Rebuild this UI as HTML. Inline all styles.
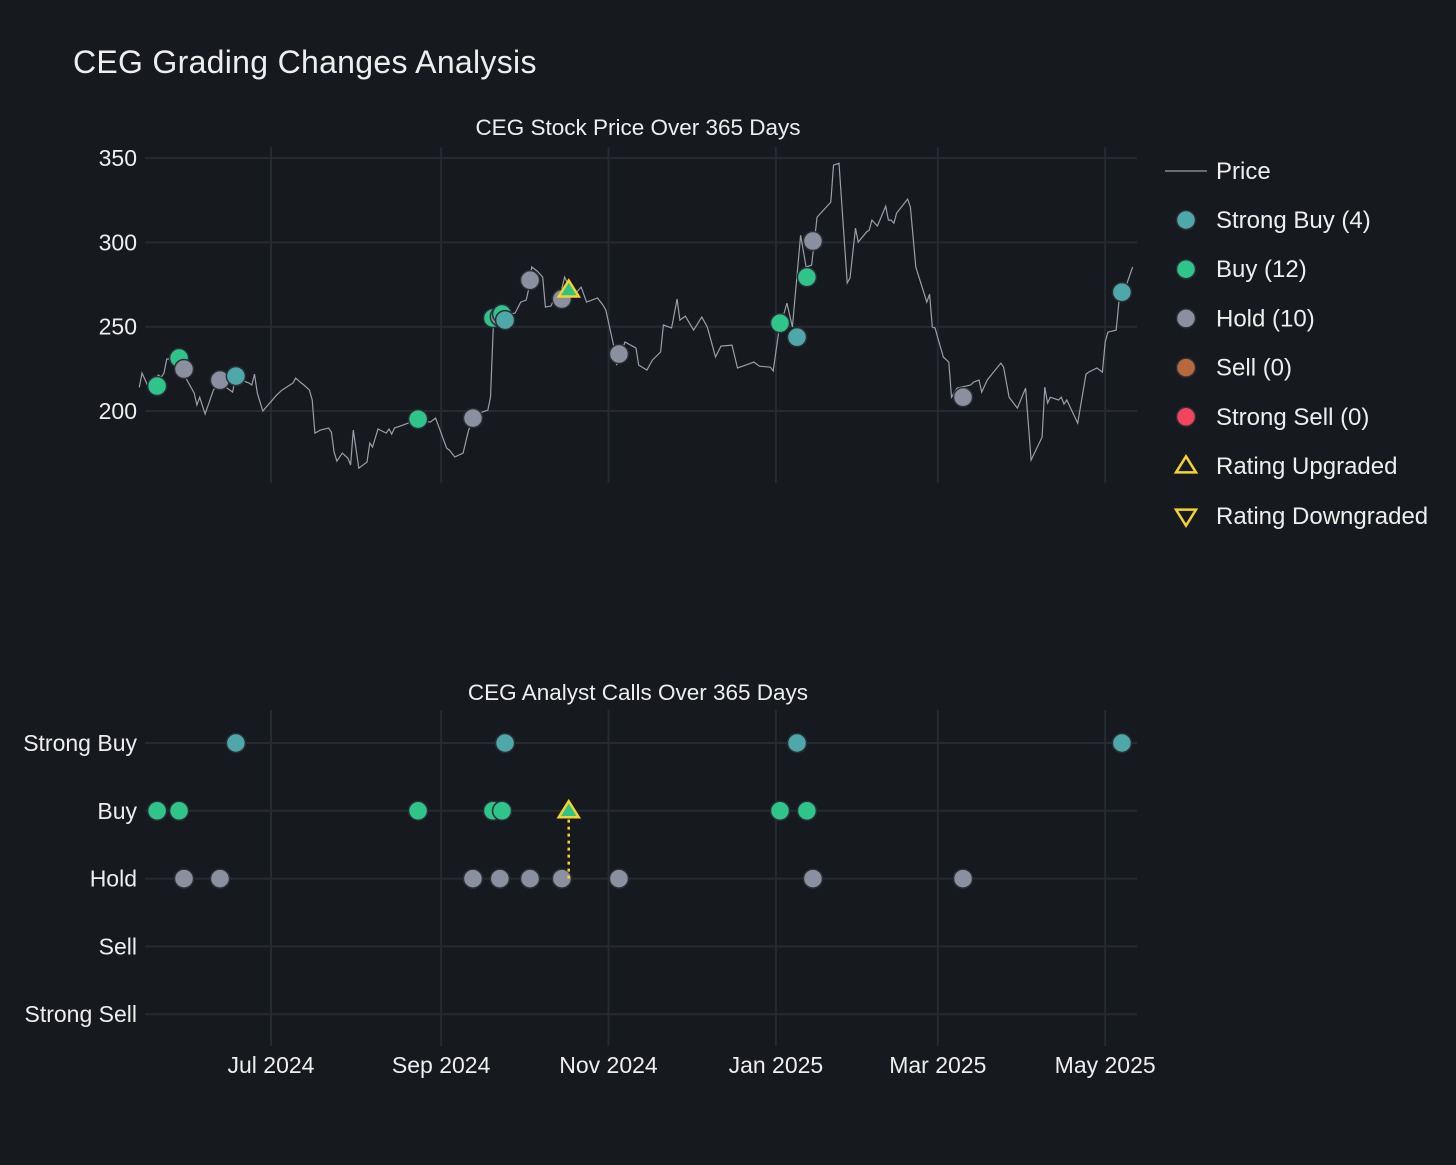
<!DOCTYPE html>
<html><head><meta charset="utf-8">
<style>
html,body{margin:0;padding:0;background:#16191e;}
svg{display:block;font-family:"Liberation Sans","DejaVu Sans",sans-serif;}
</style></head>
<body>
<svg id="chart" width="1456" height="1165" viewBox="0 0 1456 1165" xmlns="http://www.w3.org/2000/svg">
<rect width="1456" height="1165" fill="#16191e"/>
<text x="73" y="73" fill="#eeeeee" font-size="32" letter-spacing="0.3">CEG Grading Changes Analysis</text>
<text x="638" y="135" fill="#eeeeee" font-size="22.5" text-anchor="middle">CEG Stock Price Over 365 Days</text>
<text x="638" y="700" fill="#eeeeee" font-size="22.5" text-anchor="middle">CEG Analyst Calls Over 365 Days</text>
<g id="grid"></g>
<g id="price"></g>
<g id="calls"></g>
<g id="legend"></g>
</svg>
<script>
// Price series: day offset from 2024-07-01, closing price
const priceDays = [-48,-47,-45,-41,-40,-39,-38,-34,-31,-28,-27,-26,-24,-21,-19,-16,-14,-13,-8,-7,-6,-5,-3,2,4,8,9,11,12,14,15,16,18,21,22,23,24,26,28,29,30,32,35,36,37,39,42,43,44,45,48,50,53,58,60,64,65,67,70,72,74,77,79,80,81,83,89,91,93,94,95,97,99,100,102,103,105,107,108,110,111,113,115,119,121,122,125,126,129,133,134,137,139,142,143,146,148,149,151,154,157,159,162,164,168,170,173,176,178,182,183,185,188,190,193,195,197,199,204,205,207,210,211,213,214,217,218,219,221,224,225,226,227,228,232,233,235,239,240,241,242,245,247,248,250,255,256,258,259,261,263,266,267,269,272,275,277,281,282,283,284,287,288,289,290,294,297,298,301,303,304,305,308,309,312,314];
const prices = [214,222.5,215.4,221.3,220,222.5,230.8,231.4,219.5,210.6,203.5,208.2,198.2,212.4,217.1,213.6,211.2,219.5,216.6,215.4,221.9,210.6,200,209.4,212.4,216.6,219.5,216.6,215.4,212.4,206.5,186.9,188.7,189.9,187.5,175.6,170.3,175,172.1,168,188.7,166.1,169.7,181,178.6,189.3,186.9,189.3,186.3,189.9,191.6,192.8,194.6,193.4,195.8,178,176.8,172.7,175,188.7,195.8,199.4,200.5,208.2,249.8,255.7,258.1,264.6,265.8,272.9,285.4,283,279.4,261.6,262.2,265.8,265.8,279.4,275.9,271.7,269.9,273.5,264.6,267,262.8,259.9,237.9,227.2,240.9,237.3,227.2,224.3,230.2,235,251,249.2,266.4,253.9,256.3,248,255.7,249.8,232,238.5,239.1,225.5,227.2,229,226.6,226,223.7,246.5,264,249.8,304.3,285.4,286.5,315,323.9,345.8,347,275.9,278.8,308.5,300.2,306.1,307.3,313.2,309.7,321.5,313.2,313.2,311.4,317.4,325.7,320.9,285.4,264.6,269.3,249.8,249.2,232,229,208.2,213.6,215.4,217.1,218.3,211.2,218.3,222.5,228.4,226,208.2,201.7,213.6,170.9,184.5,214.2,204.7,208.2,206.5,208.2,204.1,206.5,192.8,221.9,223.1,225.5,223.1,240.9,246.8,248,264.6,275.9,285.4];
// Analyst calls
const callDays = [-41.5,-33.5,-31.7,-18.6,-12.8,53.6,73.6,80.9,83.4,84.2,85.3,94.4,106,126.8,185.5,191.7,195.3,197.5,252.2,310.1];
const callRatings = ["Buy","Buy","Hold","Hold","Strong Buy","Buy","Hold","Buy","Hold","Buy","Strong Buy","Hold","Hold","Hold","Buy","Strong Buy","Buy","Hold","Hold","Strong Buy"];
const callPrices = [214.8,231.4,224.9,218.3,220.7,195.2,195.8,255.1,256,257.5,253.9,277.6,266.4,233.8,252.1,243.8,279.4,300.8,208.2,270.5];
// Rating changes
const upgradeDays = [108.5];
const upgradeFrom = ["Hold"];
const upgradeTo = ["Buy"];
const upgradePrices = [271.7];
// Axes
const ratingLevels = ["Strong Buy","Buy","Hold","Sell","Strong Sell"];
const priceTicks = [200,250,300,350];
const dateTickDays = [0,62,123,184,243,304];
const dateTickLabels = ["Jul 2024","Sep 2024","Nov 2024","Jan 2025","Mar 2025","May 2025"];
const legendLabels = ["Strong Buy (4)","Buy (12)","Hold (10)","Sell (0)","Strong Sell (0)"];

const colors = {"Strong Buy":"#4ea8aa","Buy":"#2ec48a","Hold":"#8a90a0","Sell":"#b7693d","Strong Sell":"#f2445c"};
const NS = "http://www.w3.org/2000/svg";
const X0 = 145, X1 = 1137;
const xScale = d => 271 + d * 2.744;
const yPrice = p => 411 - (p - 200) * 1.686;
const yRating = r => 743 + ratingLevels.indexOf(r) * 67.8;

function mk(tag, attrs, parent) {
  const e = document.createElementNS(NS, tag);
  for (const k in attrs) e.setAttribute(k, attrs[k]);
  parent.appendChild(e);
  return e;
}
const grid = document.getElementById('grid');
const gPrice = document.getElementById('price');
const gCalls = document.getElementById('calls');
const gLeg = document.getElementById('legend');

dateTickDays.forEach((d, i) => {
  const x = xScale(d);
  const l1 = mk('line', {x1:x, x2:x, y1:147, y2:483, stroke:'#262a31', 'stroke-width':2}, grid);
  
  
  const l2 = mk('line', {x1:x, x2:x, y1:710, y2:1046, stroke:'#262a31', 'stroke-width':2}, grid);
  
  
  const t = mk('text', {x:x, y:1073, fill:'#eeeeee', 'font-size':23, 'text-anchor':'middle'}, grid);
  t.textContent = dateTickLabels[i];
  
  
});
priceTicks.forEach(p => {
  const y = yPrice(p);
  const l = mk('line', {x1:X0, x2:X1, y1:y, y2:y, stroke:'#262a31', 'stroke-width':2}, grid);
  
  
  const t = mk('text', {x:137, y:y + 8, fill:'#eeeeee', 'font-size':23, 'text-anchor':'end'}, grid);
  t.textContent = p;
  
  
});
ratingLevels.forEach(r => {
  const y = yRating(r);
  const l = mk('line', {x1:X0, x2:X1, y1:y, y2:y, stroke:'#262a31', 'stroke-width':2}, grid);
  
  
  const t = mk('text', {x:137, y:y + 8, fill:'#eeeeee', 'font-size':23, 'text-anchor':'end'}, grid);
  t.textContent = r;
  
  
});

const pts = priceDays.map((d, i) => xScale(d).toFixed(1) + ',' + yPrice(prices[i]).toFixed(1)).join(' ');
const pl = mk('polyline', {points:pts, fill:'none', stroke:'#9a9ea6', 'stroke-width':1.2}, gPrice);



callDays.forEach((d, i) => {
  const c1 = mk('circle', {cx:xScale(d), cy:yPrice(callPrices[i]), r:9.5, fill:colors[callRatings[i]], stroke:'#2a2e36', 'stroke-width':1.5}, gPrice);
  
  
  const c2 = mk('circle', {cx:xScale(d), cy:yRating(callRatings[i]), r:9.5, fill:colors[callRatings[i]], stroke:'#2a2e36', 'stroke-width':1.5}, gCalls);
  
  
});

function tri(cx, cy, up, parent) {
  const h = 16, w = 20;
  const p = up ? [[cx, cy - h*0.6],[cx - w/2, cy + h*0.4],[cx + w/2, cy + h*0.4]]
               : [[cx, cy + h*0.6],[cx - w/2, cy - h*0.4],[cx + w/2, cy - h*0.4]];
  return mk('polygon', {points:p.map(q => q.join(',')).join(' ')}, parent);
}
upgradeDays.forEach((d, i) => {
  const x = xScale(d);
  const ln = mk('line', {x1:x, x2:x, y1:yRating(upgradeFrom[i]), y2:yRating(upgradeTo[i]) + 6, stroke:'#f5d327', 'stroke-width':2.5, 'stroke-dasharray':'3,4'}, gCalls);
  
  
  const t1 = tri(x, yPrice(upgradePrices[i]), true, gPrice);
  t1.setAttribute('fill', colors[upgradeTo[i]]);
  t1.setAttribute('stroke', '#f5d327');
  t1.setAttribute('stroke-width', 2.5);
  
  
  const t2 = tri(x, yRating(upgradeTo[i]), true, gCalls);
  t2.setAttribute('fill', colors[upgradeTo[i]]);
  t2.setAttribute('stroke', '#f5d327');
  t2.setAttribute('stroke-width', 2.5);
  
  
});

const lgl = mk('line', {x1:1165, x2:1207, y1:171, y2:171, stroke:'#9a9ea6', 'stroke-width':1.2}, gLeg);


const lgt = mk('text', {x:1216, y:179, fill:'#eeeeee', 'font-size':24}, gLeg);
lgt.textContent = 'Price';


ratingLevels.forEach((r, i) => {
  const y = 220 + i * 49.2;
  const c = mk('circle', {cx:1186, cy:y, r:9.5, fill:colors[r], stroke:'#2a2e36', 'stroke-width':1.5}, gLeg);
  
  
  const t = mk('text', {x:1216, y:y + 8, fill:'#eeeeee', 'font-size':24}, gLeg);
  t.textContent = legendLabels[i];
  
  
});
const lu = tri(1186, 466, true, gLeg);
lu.setAttribute('fill', 'none'); lu.setAttribute('stroke', '#f5d327'); lu.setAttribute('stroke-width', 2.5);


const lut = mk('text', {x:1216, y:474, fill:'#eeeeee', 'font-size':24}, gLeg);
lut.textContent = 'Rating Upgraded';


const ld = tri(1186, 516, false, gLeg);
ld.setAttribute('fill', 'none'); ld.setAttribute('stroke', '#f5d327'); ld.setAttribute('stroke-width', 2.5);


const ldt = mk('text', {x:1216, y:524, fill:'#eeeeee', 'font-size':24}, gLeg);
ldt.textContent = 'Rating Downgraded';


</script>
</body></html>
